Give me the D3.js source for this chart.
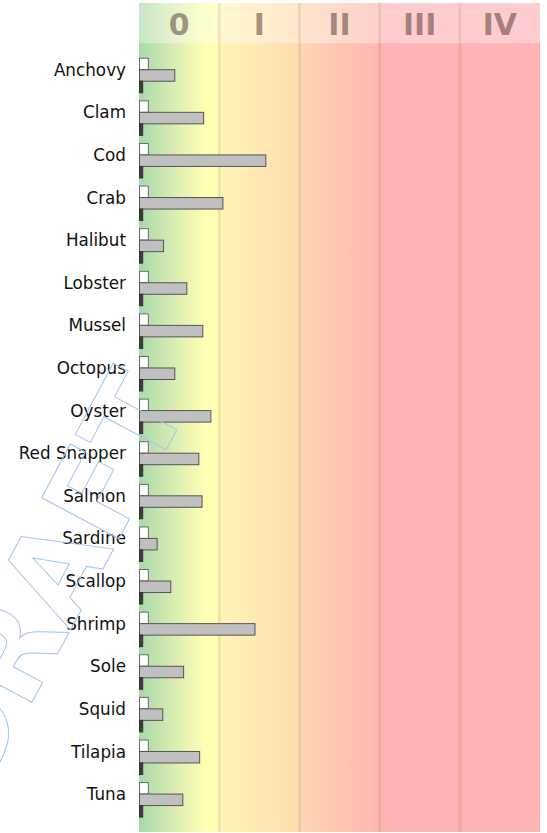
<!DOCTYPE html>
<html>
<head>
<meta charset="utf-8">
<script src="https://cdn.jsdelivr.net/npm/d3@7"></script>
<style>
    body { margin: 0; background: #fff; }
    svg { display: block; }
</style>
</head>
<body>
<div id="chart"></div>
<script>
// categories and series values (units: one band = 1)
var species = ["Anchovy", "Clam", "Cod", "Crab", "Halibut", "Lobster", "Mussel", "Octopus", "Oyster",
    "Red Snapper", "Salmon", "Sardine", "Scallop", "Shrimp", "Sole", "Squid", "Tilapia", "Tuna"];
var lightValues = [0.11, 0.11, 0.11, 0.11, 0.11, 0.11, 0.11, 0.11, 0.11,
    0.11, 0.11, 0.11, 0.11, 0.11, 0.11, 0.11, 0.11, 0.11];
var mainValues = [0.44, 0.80, 1.575, 1.04, 0.30, 0.59, 0.79, 0.44, 0.89,
    0.74, 0.78, 0.22, 0.39, 1.44, 0.55, 0.29, 0.75, 0.54];
var darkValues = [0.04, 0.04, 0.04, 0.04, 0.04, 0.04, 0.04, 0.04, 0.04,
    0.04, 0.04, 0.04, 0.04, 0.04, 0.04, 0.04, 0.04, 0.04];
var levelLabels = ["0", "I", "II", "III", "IV"];
var seriesKeys = ["light", "main", "dark"];

var width = 547, height = 833;
var margin = {top: 3, right: 7, bottom: 1, left: 139};
var headerH = 40.3;

var svg = d3.select("#chart")
    .append("svg")
    .attr("width", width)
    .attr("height", height);

var x = d3.scaleLinear()
    .domain([0, levelLabels.length])
    .range([margin.left, width - margin.right]);

var y = d3.scaleBand()
    .domain(species)
    .range([margin.top + headerH, height - margin.bottom])
    .paddingInner(0.19)
    .paddingOuter(0.35);

var ySub = d3.scaleBand()
    .domain(seriesKeys)
    .range([0, y.bandwidth()]);

var rows = species.map(function (s, i) {
    return {name: s, light: lightValues[i], main: mainValues[i], dark: darkValues[i]};
});

// background gradient
var defs = svg.append("defs");
var grad = defs.append("linearGradient")
    .attr("id", "bandGrad")
    .attr("gradientUnits", "userSpaceOnUse")
    .attr("x1", x(0)).attr("x2", x(5))
    .attr("y1", 0).attr("y2", 0);
[
    [0, "#a9d8ab"],
    [0.08, "#d6ebb2"],
    [0.165, "#ffffb3"],
    [0.2, "#ffffb3"],
    [0.2, "#fff4b6"],
    [0.4, "#ffdcb0"],
    [0.4, "#ffd6b3"],
    [0.6, "#ffb6b1"],
    [0.6, "#ffb3b3"],
    [1, "#ffb3b3"]
].forEach(function (s) {
    grad.append("stop").attr("offset", s[0]).attr("stop-color", s[1]);
});

svg.append("rect")
    .attr("x", x(0))
    .attr("y", margin.top)
    .attr("width", x(5) - x(0))
    .attr("height", height - margin.bottom - margin.top)
    .attr("fill", "url(#bandGrad)");

// header strip
svg.append("rect")
    .attr("x", x(0))
    .attr("y", margin.top)
    .attr("width", x(5) - x(0))
    .attr("height", headerH)
    .attr("fill", "#fff")
    .attr("opacity", 0.35);

// band dividers
svg.append("g")
    .selectAll("line")
    .data(d3.range(1, levelLabels.length))
    .join("line")
    .attr("x1", function (d) { return x(d); })
    .attr("x2", function (d) { return x(d); })
    .attr("y1", margin.top)
    .attr("y2", height - margin.bottom)
    .attr("stroke", "rgb(120,100,80)")
    .attr("stroke-opacity", 0.13)
    .attr("stroke-width", 3);

// level labels
svg.append("g")
    .selectAll("text")
    .data(levelLabels)
    .join("text")
    .attr("x", function (d, i) { return x(i + 0.5); })
    .attr("y", margin.top + 32)
    .attr("text-anchor", "middle")
    .style("font-family", "DejaVu Sans")
    .style("font-weight", "bold")
    .style("font-size", "30px")
    .style("fill", "#503232")
    .style("fill-opacity", 0.5)
    .text(function (d) { return d; });

// category labels
svg.append("g")
    .selectAll("text")
    .data(species)
    .join("text")
    .attr("x", margin.left - 13)
    .attr("y", function (d) { return y(d) + y.bandwidth() / 2 + 0.3; })
    .attr("text-anchor", "end")
    .style("font-family", "DejaVu Sans")
    .style("font-size", "16.8px")
    .style("fill", "#111")
    .text(function (d) { return d; });

// bars
var fills = {light: "#ffffff", main: "#c0c0c0", dark: "#3c3c3c"};
var strokes = {light: "#6a6a6a", main: "#555555", dark: "#333333"};

var groups = svg.append("g")
    .selectAll("g")
    .data(rows)
    .join("g")
    .attr("transform", function (d) { return "translate(0," + y(d.name) + ")"; });

groups.selectAll("rect")
    .data(function (d) {
        return seriesKeys.map(function (k) { return {key: k, value: d[k]}; });
    })
    .join("rect")
    .attr("x", x(0) + 0.5)
    .attr("y", function (d) { return ySub(d.key); })
    .attr("width", function (d) { return x(d.value) - x(0); })
    .attr("height", ySub.bandwidth())
    .attr("fill", function (d) { return fills[d.key]; })
    .attr("stroke", function (d) { return strokes[d.key]; })
    .attr("stroke-width", 1);

// watermark
svg.append("text")
    .attr("transform", "translate(-20,800) rotate(-62)")
    .style("font-family", "DejaVu Sans")
    .style("font-weight", "bold")
    .style("font-size", "120px")
    .style("fill", "none")
    .style("stroke", "#9fc6ee")
    .style("stroke-width", 1)
    .text("DRAFT");
</script>
</body>
</html>
